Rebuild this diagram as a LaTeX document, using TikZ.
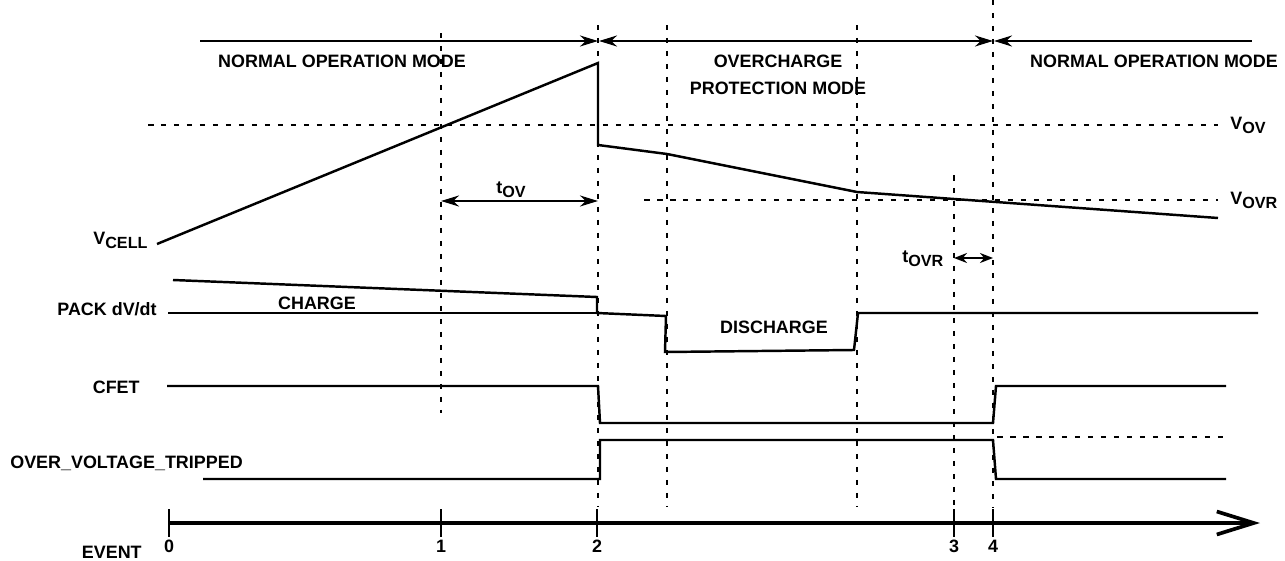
\documentclass[tikz,border=0pt]{standalone}
\usepackage{fontspec}
\setmainfont{Liberation Sans}
\usetikzlibrary{arrows.meta}
\newcommand{\lowsub}[1]{\raisebox{-2.6pt}{\fontsize{9.2}{10}\selectfont #1}}

\begin{document}
\begin{tikzpicture}[x=0.02cm, y=-0.02cm, >={Stealth[length=0.36cm,width=0.22cm]},
    wave/.style={line width=1.4pt},
    guide/.style={line width=1.1pt, dash pattern=on 0.11cm off 0.15cm},
    lbl/.style={font=\bfseries\fontsize{10.2}{12}\selectfont, inner sep=0pt}]
    \useasboundingbox (0,0) rectangle (1285,561);

    \draw[->, wave] (200,41) -- (598,41);
    \draw[<->, wave] (599,41) -- (993,41);
    \draw[<-, wave] (994,41) -- (1252,41);

    \node[lbl, anchor=base] (modeA) at (342,67) {NORMAL OPERATION MODE};
    \node[lbl, anchor=base] (modeB) at (778,67) {OVERCHARGE};
    \node[lbl, anchor=base] (modeC) at (778,94) {PROTECTION MODE};
    \node[lbl, anchor=base] (modeD) at (1154,67) {NORMAL OPERATION MODE};

    \draw[guide] (441,33) -- (441,413);
    \draw[guide] (598,25) -- (598,507);
    \draw[guide] (667,25) -- (667,507);
    \draw[guide] (857,25) -- (857,507);
    \draw[guide] (954,175) -- (954,507);
    \draw[guide] (993,0) -- (993,507);
    \draw[guide] (148,125) -- (1218,125);
    \draw[guide] (644,200) -- (1218,200);
    \draw[guide] (997,437) -- (1226,437);

    \node[lbl, anchor=base west] (vov) at (1230,129) {V\lowsub{OV}};
    \node[lbl, anchor=base west] (vovr) at (1230,204) {V\lowsub{OVR}};
    \node[lbl, anchor=base west] (vcell) at (93,244) {V\lowsub{CELL}};
    \draw[wave] (157,244) -- (598,63) -- (598,145) -- (667,154) -- (857,192) -- (1218,218);

    \draw[<->, wave] (441,201) -- (598,201);
    \node[lbl, anchor=base west] (tov) at (496,193) {t\lowsub{OV}};
    \draw[<->, wave, >={Stealth[length=0.26cm,width=0.2cm]}] (954,258) -- (993,258);
    \node[lbl, anchor=base west] (tovr) at (902,262) {t\lowsub{OVR}};

    \node[lbl, anchor=base east] (pack) at (157,315) {PACK dV/dt};
    \node[lbl, anchor=base] (chg) at (317,309) {CHARGE};
    \node[lbl, anchor=base] (dchg) at (774,333) {DISCHARGE};
    \draw[wave] (173,280) -- (597,297) -- (597,313) -- (666,316) -- (665,352) -- (854,350) -- (858,313) -- (1258,313);
    \draw[wave] (168,313) -- (597,313);

    \node[lbl, anchor=base east] (cfet) at (140,393) {CFET};
    \draw[wave] (167,386) -- (598,386) -- (600,423) -- (993,423) -- (996,386) -- (1226,386);

    \node[lbl, anchor=base west] (ovt) at (10,468) {OVER\_VOLTAGE\_TRIPPED};
    \draw[wave] (203,479) -- (600,479) -- (600,440) -- (993,440) -- (996,479) -- (1226,479);

    \node[lbl, anchor=base east] (event) at (142,558) {EVENT};
    \draw[line width=2.1pt, -{Straight Barb[length=0.74cm,width=0.46cm]}] (169,523) -- (1260,523);
    \foreach \x/\n in {169/0, 441/1, 597/2, 954/3, 993/4} {
        \draw[wave] (\x,509) -- (\x,537);
        \node[lbl, anchor=base] (ev\n) at (\x,552) {\n};
    }
\end{tikzpicture}
\end{document}
